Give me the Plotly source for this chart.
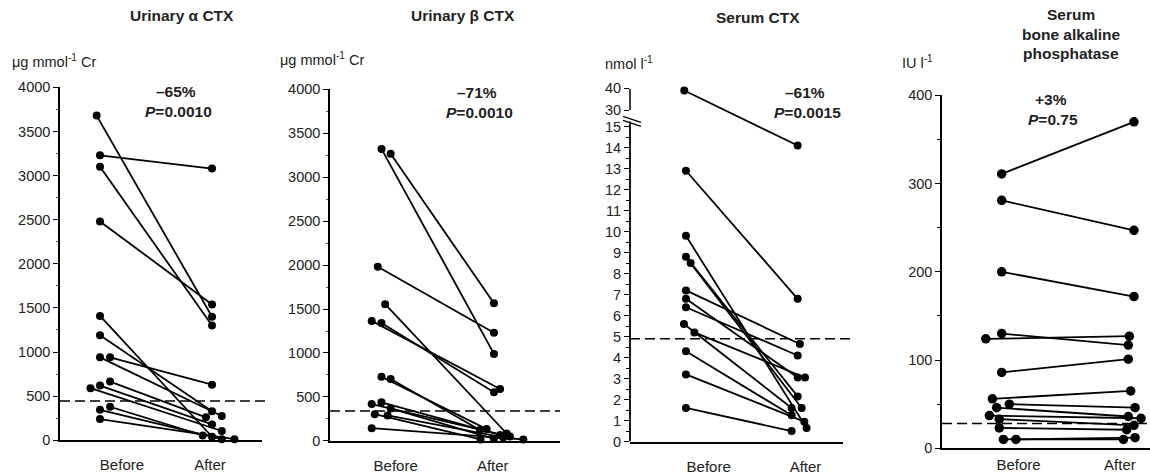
import plotly.graph_objects as go

W, H = 1150, 475
FONT = "Liberation Sans, Arial, sans-serif"

# ---------------- data ----------------
# Panel 1: Urinary alpha CTX (ug mmol-1 Cr), paired subjects
a_before = [3680, 3230, 3100, 2480, 1410, 1190, 940, 940, 665, 620, 590, 380, 345, 240]
a_after = [1400, 3080, 1300, 1540, 40, 330, 630, 275, 260, 180, 105, 55, 12, 12]
a_ref = 445
a_ticks = [0, 500, 1000, 1500, 2000, 2500, 3000, 3500, 4000]

# Panel 2: Urinary beta CTX (ug mmol-1 Cr)
b_before = [3320, 3265, 1980, 1555, 1365, 1340, 730, 705, 440, 420, 370, 305, 290, 145]
b_after = [990, 1565, 1230, 85, 590, 555, 135, 125, 68, 50, 25, 18, 40, 18]
b_ref = 340
b_ticks = [0, 500, 1000, 1500, 2000, 2500, 3000, 3500, 4000]

# Panel 3: Serum CTX (nmol l-1), broken axis 15 -> 30
c_before = [39, 12.9, 9.8, 8.8, 8.5, 7.2, 6.8, 6.4, 5.6, 5.2, 4.3, 3.2, 1.6]
c_after = [14.1, 6.8, 0.65, 2.15, 1.6, 4.65, 3.05, 4.1, 1.6, 3.05, 1.25, 0.95, 0.5]
c_ref = 4.9
c_ticks_low = list(range(0, 16))
c_ticks_high = [30, 40]

# Panel 4: Serum bone alkaline phosphatase (IU l-1)
d_before = [311, 281, 200, 130, 124, 86, 56, 50, 46, 37, 33, 23, 10, 10]
d_after = [370, 247, 172, 117, 127, 101, 65, 46, 36, 34, 26, 21, 12, 10]
d_ref = 28
d_ticks = [0, 100, 200, 300, 400]

groups = ["Before", "After"]
titles = [["Urinary α CTX"], ["Urinary β CTX"], ["Serum CTX"],
          ["Serum", "bone alkaline", "phosphatase"]]
units = ["μg mmol<sup>-1</sup> Cr", "μg mmol<sup>-1</sup> Cr", "nmol l<sup>-1</sup>", "IU l<sup>-1</sup>"]
changes = ["–65%", "–71%", "–61%", "+3%"]
pvalues = ["0.0010", "0.0010", "0.0015", "0.75"]

# horizontal jitter of the dots (fraction of the Before-After spacing), style only
a_jb = [-0.03, 0, 0, 0, 0, 0, 0.09, 0, 0.09, 0, -0.085, 0.09, 0, 0]
a_ja = [0, 0, 0, 0, 0, 0, 0, 0.087, -0.054, 0, 0.087, -0.083, 0.087, 0.2]
b_jb = [0.08, 0.155, 0.05, 0.11, 0, 0.08, 0.08, 0.155, 0.08, 0, 0.155, 0.025, 0.13, 0]
b_ja = [0, 0, 0, 0.104, 0.05, 0, -0.06, -0.114, 0.05, 0.13, 0, -0.11, 0.076, 0.24]
c_jb = [-0.015, 0, 0, 0, 0.042, 0, 0, 0, -0.018, 0.075, 0, 0, 0]
c_ja = [0, 0, 0.08, 0, 0.036, 0.02, 0, 0, -0.054, 0.066, -0.054, 0.06, -0.054]
d_jb = [0, 0, 0, 0, -0.12, 0, -0.07, 0.058, -0.038, -0.093, -0.018, -0.018, 0.013, 0.108]
d_ja = [0, 0, 0, -0.043, -0.035, -0.043, -0.025, 0.008, -0.043, 0.053, 0, -0.055, 0.008, -0.08]


def brk(v):
    """broken-axis scale for panel 3: 0-15 linear, 30-40 compressed above"""
    return v if v <= 15 else 15.79 + (v - 30) * 0.1033


# ---------------- layout geometry (pixels) ----------------
def Y(y):
    """vertical pixel calibration of the rendered page"""
    return (y - 9.6) / 0.9645


def xdom(a, b):
    return [a / W, b / W]


def ydom(top, bottom):
    return [1 - Y(bottom) / H, 1 - Y(top) / H]


def yp(y):
    return 1 - Y(y) / H


panels = [
    dict(before=a_before, after=a_after, jb=a_jb, ja=a_ja, ref=a_ref,
         xd=(60, 262), yd=(89, 442), xr=[-0.357, 1.446], yr=[0, 4000],
         lab=[0.196, 0.982], msize=8, tlen=10, dash_end=1.015),
    dict(before=b_before, after=b_after, jb=b_jb, ja=b_ja, ref=b_ref,
         xd=(330, 560), yd=(90.7, 442.7), xr=[-0.341, 1.540], yr=[0, 4000],
         lab=[0.196, 0.99], msize=8, tlen=10, dash_end=1.0),
    dict(before=[brk(v) for v in c_before], after=[brk(v) for v in c_after],
         jb=c_jb, ja=c_ja, ref=c_ref,
         xd=(630, 843), yd=(90, 443.3), xr=[-0.501, 1.406], yr=[0, brk(40)],
         lab=[0.203, 1.07], msize=8, tlen=10, dash_end=1.04),
    dict(before=d_before, after=d_after, jb=d_jb, ja=d_ja, ref=d_ref,
         xd=(942, 1150), yd=(97, 450), xr=[-0.451, 1.121], yr=[0, 400],
         lab=[0.128, 0.894], msize=9.5, tlen=2, dash_end=1.0),
]

fig = go.Figure()
layout = dict(autosize=True, margin=dict(l=0, r=0, t=0, b=0, pad=0),
              paper_bgcolor="white", plot_bgcolor="white", showlegend=False,
              font=dict(family=FONT, size=14, color="#222"))
shapes = []
annotations = []

for i, p in enumerate(panels):
    k = "" if i == 0 else str(i + 1)
    xa, ya = "x" + k, "y" + k
    for b, a, jb, ja in zip(p["before"], p["after"], p["jb"], p["ja"]):
        fig.add_trace(go.Scatter(
            x=[0 + jb, 1 + ja], y=[b, a], xaxis=xa, yaxis=ya, mode="lines+markers",
            line=dict(color="black", width=1.8),
            marker=dict(color="black", size=p["msize"]),
            cliponaxis=False, hoverinfo="skip"))

    layout["xaxis" + k] = dict(
        domain=xdom(*p["xd"]), range=p["xr"], anchor=ya, showgrid=False, zeroline=False,
        showline=True, linecolor="black", linewidth=2,
        tickmode="array", tickvals=p["lab"], ticktext=groups,
        ticks="outside", ticklen=p["tlen"], tickcolor="rgba(0,0,0,0)",
        tickfont=dict(size=15, color="#222"), fixedrange=True)

    yax = dict(domain=ydom(*p["yd"]), range=p["yr"], anchor=xa, showgrid=False,
               zeroline=False, showline=True, linecolor="black", linewidth=1.5,
               ticks="outside", ticklen=5, tickwidth=1.2, tickcolor="black",
               tickfont=dict(size=14.5, color="#222"), fixedrange=True)
    if i in (0, 1):
        yax.update(tickmode="array", tickvals=a_ticks if i == 0 else b_ticks,
                   minor=dict(tickmode="array",
                              tickvals=[t + 250 for t in a_ticks[:-1]],
                              ticks="outside", ticklen=2.5, tickcolor="#555"))
    elif i == 2:
        tv = c_ticks_low + [brk(v) for v in c_ticks_high]
        tt = [str(v) for v in c_ticks_low + c_ticks_high]
        yax.update(tickmode="array", tickvals=tv, ticktext=tt, showline=False,
                   minor=dict(tickmode="array",
                              tickvals=[t + 0.5 for t in c_ticks_low[:-1]],
                              ticks="outside", ticklen=3, tickcolor="black"))
        # axis segments with a break
        shapes.append(dict(type="line", xref="x3 domain", yref="y3", x0=0, x1=0,
                           y0=0, y1=15.25, line=dict(color="black", width=1.8)))
        shapes.append(dict(type="line", xref="x3 domain", yref="y3", x0=0, x1=0,
                           y0=brk(30), y1=brk(40), line=dict(color="black", width=1.5)))
        for dy in (0, 4):
            shapes.append(dict(type="line", xref="paper", yref="paper",
                               x0=623 / W, x1=641 / W,
                               y0=yp(118 + dy), y1=yp(124 + dy),
                               line=dict(color="black", width=1.3)))
    else:
        yax.update(tickmode="array", tickvals=d_ticks,
                   minor=dict(tickmode="array", tickvals=[50, 150, 250, 350],
                              ticks="outside", ticklen=3, tickcolor="black"))
    layout["yaxis" + k] = yax

    # dashed reference line
    shapes.append(dict(type="line", xref=xa + " domain", yref=ya, x0=0, x1=p["dash_end"],
                       y0=p["ref"], y1=p["ref"],
                       line=dict(color="black", width=1.5, dash="10px,5px")))

# titles
title_pos = [(182, [17]), (463, [17]), (758, [19]), (1071, [16, 36, 55])]
for (cx, ys), lines in zip(title_pos, titles):
    for yy, t in zip(ys, lines):
        annotations.append(dict(text="<b>" + t + "</b>", x=cx / W, y=yp(yy),
                                xref="paper", yref="paper", xanchor="center", yanchor="middle",
                                showarrow=False, font=dict(size=15.5, color="#222")))
# units
unit_pos = [(10, 63), (278, 61), (603, 65), (900, 64)]
for (lx, yy), u in zip(unit_pos, units):
    annotations.append(dict(text=u, x=lx / W, y=yp(yy), xref="paper", yref="paper",
                            xanchor="left", yanchor="middle", showarrow=False,
                            font=dict(size=14.5, color="#222")))
# statistics
stat_pos = [(176, 93), (477, 94), (805, 94), (1051, 101)]
for (cx, yy), ch, pv in zip(stat_pos, changes, pvalues):
    annotations.append(dict(text="<b>" + ch + "</b>", x=cx / W, y=yp(yy),
                            xref="paper", yref="paper", xanchor="center", yanchor="middle",
                            showarrow=False, font=dict(size=15.5, color="#222")))
    annotations.append(dict(text="<b><i>P</i>=" + pv + "</b>", x=(cx + 2) / W,
                            y=yp(yy + 20), xref="paper", yref="paper",
                            xanchor="center", yanchor="middle", showarrow=False,
                            font=dict(size=15.5, color="#222")))

layout["shapes"] = shapes
layout["annotations"] = annotations
fig.update_layout(**layout)
fig.write_html(
    "out.html",
    config={"displayModeBar": False, "responsive": True},
    default_width="100vw", default_height="100vh",
    post_script=("document.body.style.margin='0';document.body.style.padding='0';"
                 "document.body.style.overflow='hidden';"
                 "Plotly.Plots.resize(document.getElementById('{plot_id}'));"))
